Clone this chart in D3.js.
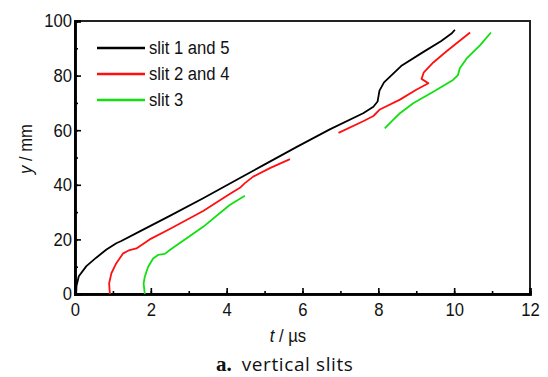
<!DOCTYPE html>
<html>
<head>
<meta charset="utf-8">
<script src="https://cdn.jsdelivr.net/npm/d3@7"></script>
<style>
  body { margin: 0; background: #fff; }
  svg { display: block; }
  text { font-family: "Liberation Sans", Arial, sans-serif; fill: #111; }
</style>
</head>
<body>
<svg id="chart" width="548" height="377"></svg>
<script>
// series: [t (µs), y (mm)]
const slit15 = [
  [0.03, 0], [0.04, 3], [0.1, 6.5], [0.3, 10.2], [0.56, 13.3], [0.83, 16.3],
  [1.09, 18.6], [1.22, 19.4], [1.62, 22.3], [2.5, 28.6], [3.38, 35.1],
  [4.35, 42.5], [4.97, 47.2], [5.85, 53.9], [6.72, 60.3], [7.6, 66.2],
  [7.87, 68.6], [7.98, 70.5], [8.03, 74.5], [8.15, 77.5], [8.6, 83.5],
  [9.18, 88.6], [9.65, 92.6], [9.93, 95.4], [10.02, 96.8]
];
const slit24a = [
  [0.92, 0], [0.9, 3.9], [0.96, 7.6], [1.09, 11.3], [1.27, 14.9], [1.44, 16.1],
  [1.62, 16.7], [1.97, 20], [2.5, 23.8], [3.38, 30.4], [4.08, 36.6],
  [4.35, 38.9], [4.48, 40.6], [4.7, 43], [5.14, 46.1], [5.67, 49.4]
];
const slit24b = [
  [6.95, 59], [7.6, 63.3], [7.87, 65.2], [8.04, 67.6], [8.57, 71.2],
  [9.0, 74.8], [9.32, 77.2], [9.14, 78.8], [9.2, 81.2], [9.45, 84.8],
  [9.8, 88.9], [10.42, 95.8]
];
const slit3a = [
  [1.84, 0], [1.81, 3.9], [1.84, 6.3], [1.93, 10], [2.06, 13], [2.19, 14.3],
  [2.37, 14.7], [2.5, 16.1], [3.38, 24.6], [4.08, 32.6], [4.48, 36]
];
const slit3b = [
  [8.17, 60.7], [8.39, 63.8], [8.57, 66.2], [8.92, 69.9], [9.45, 74.1],
  [9.97, 78.4], [10.1, 80.2], [10.15, 82.7], [10.33, 86.3], [10.68, 91.1],
  [10.97, 95.8]
];

const seriesNames = ['slit 1 and 5', 'slit 2 and 4', 'slit 3'];
const seriesColors = ['#000000', '#ff1010', '#10e010'];
const seriesSegments = [[slit15], [slit24a, slit24b], [slit3a, slit3b]];

const xTicks = [0, 2, 4, 6, 8, 10, 12];
const yTicks = [0, 20, 40, 60, 80, 100];

const svg = d3.select('#chart');
const margin = { top: 21, right: 18, bottom: 83, left: 75 };
const width = 548 - margin.left - margin.right;
const height = 377 - margin.top - margin.bottom;

// the original labels use a narrow sans, so squeeze the text horizontally
const squeeze = 0.9;
const condense = sel => sel.each(function() {
  const t = d3.select(this);
  const x0 = +t.attr('x') || 0;
  const tr = t.attr('transform') || '';
  t.attr('x', x0 / squeeze).attr('transform', `${tr} scale(${squeeze},1)`);
});

const g = svg.append('g').attr('transform', `translate(${margin.left},${margin.top})`);

const x = d3.scaleLinear().domain([0, 12]).range([0, width]);
const y = d3.scaleLinear().domain([0, 100]).range([height, 0]);

// frame (top / right)
g.append('rect')
  .attr('width', width).attr('height', height)
  .attr('fill', 'none').attr('stroke', '#222').attr('stroke-width', 2);

// minor + major ticks, pointing inward
const xAxisMinor = d3.axisBottom(x).tickValues(d3.range(0, 13, 1)).tickSize(-3).tickFormat('');
const yAxisMinor = d3.axisLeft(y).tickValues(d3.range(0, 101, 10)).tickSize(-3).tickFormat('');
const xAxis = d3.axisBottom(x).tickValues(xTicks).tickSize(-6).tickPadding(9);
const yAxis = d3.axisLeft(y).tickValues(yTicks).tickSize(-6).tickPadding(3);

[xAxisMinor, xAxis].forEach(a => {
  g.append('g').attr('transform', `translate(0,${height})`).call(a)
    .call(s => s.select('.domain').attr('stroke', '#000').attr('stroke-width', 2.5))
    .call(s => s.selectAll('.tick line').attr('stroke', '#000').attr('stroke-width', 1.6));
});
[yAxisMinor, yAxis].forEach(a => {
  g.append('g').call(a)
    .call(s => s.select('.domain').attr('stroke', '#000').attr('stroke-width', 2.5))
    .call(s => s.selectAll('.tick line').attr('stroke', '#000').attr('stroke-width', 1.6));
});

g.selectAll('.tick text')
  .style('font-size', '18.5px')
  .attr('fill', '#111')
  .call(condense);

// curves
const line = d3.line().x(d => x(d[0])).y(d => y(d[1])).curve(d3.curveLinear);
seriesSegments.forEach((segs, i) => {
  segs.forEach(seg => {
    g.append('path')
      .datum(seg)
      .attr('d', line)
      .attr('fill', 'none')
      .attr('stroke', seriesColors[i])
      .attr('stroke-width', 1.8)
      .attr('stroke-linejoin', 'round');
  });
});

// legend
const legend = g.append('g').attr('transform', 'translate(22,27)');
seriesNames.forEach((name, i) => {
  const row = legend.append('g').attr('transform', `translate(0,${i * 26})`);
  row.append('line')
    .attr('x1', 0).attr('x2', 48)
    .attr('stroke', seriesColors[i]).attr('stroke-width', 2.4);
  row.append('text')
    .attr('x', 52).attr('dy', '0.35em')
    .style('font-size', '18.5px')
    .text(name)
    .call(condense);
});

// axis titles
const xTitle = svg.append('text')
  .attr('x', 288).attr('y', 342)
  .attr('text-anchor', 'middle')
  .style('font-size', '18.5px');
xTitle.append('tspan').style('font-style', 'italic').text('t');
xTitle.append('tspan').text(' / \u00b5s');
xTitle.call(condense);

const yTitle = svg.append('text')
  .attr('transform', 'translate(32,149) rotate(-90)')
  .attr('text-anchor', 'middle')
  .style('font-size', '18.5px');
yTitle.append('tspan').style('font-style', 'italic').text('y');
yTitle.append('tspan').text(' / mm');
yTitle.call(condense);

// caption
const caption = svg.append('text')
  .attr('x', 216).attr('y', 371)
  .style('font-size', '19px');
caption.append('tspan')
  .style('font-family', '"Liberation Serif", serif')
  .style('font-weight', 'bold')
  .style('font-size', '21px')
  .text('a.');
caption.append('tspan')
  .style('font-family', '"Open Sans", sans-serif')
  .style('letter-spacing', '0.6px')
  .attr('dx', 10)
  .text('vertical slits');
</script>
</body>
</html>
